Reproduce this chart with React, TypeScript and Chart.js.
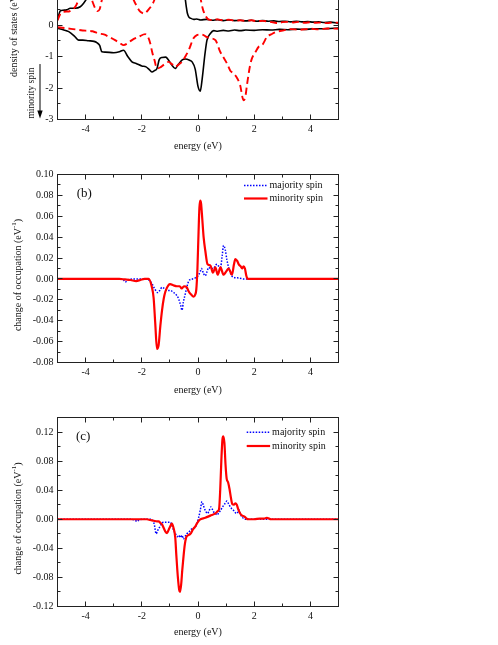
import React, { useEffect, useRef } from 'react';
import { Chart, registerables } from 'chart.js';

Chart.register(...registerables);

const FONT = "'Liberation Serif', 'Times New Roman', serif";

// ---------- shared axis data ----------
const energyMin = -5;
const energyMax = 5;
const xMajorTicks = [-4, -2, 0, 2, 4];
const xMinorTicks = [-5, -3, -1, 1, 3, 5];

// ---------- panel (a): density of states ----------
const aYMajor = [-3, -2, -1, 0, 1, 2, 3];
const aYMinor = [-2.5, -1.5, -0.5, 0.5, 1.5, 2.5];

const aBlackMajE = [-5.0, -4.9, -4.8, -4.67, -4.55, -4.37, -4.19, -4.07, -3.95, -3.7, -3.3, -2.9, -2.5, -2.1, -1.7, -1.3, -0.9, -0.6, -0.48, -0.42, -0.38, -0.33, -0.25, -0.15, -0.05, 0.1, 0.3, 0.5, 0.7, 0.9, 1.1, 1.3, 1.5, 1.7, 1.9, 2.1, 2.3, 2.5, 2.7, 2.9, 3.1, 3.3, 3.5, 3.7, 3.9, 4.1, 4.3, 4.5, 4.7, 4.9, 5.0];
const aBlackMajV = [0.16, 0.45, 0.47, 0.48, 0.53, 0.53, 0.58, 0.69, 0.85, 1.3, 1.6, 1.8, 2.0, 2.2, 1.9, 2.3, 2.1, 1.5, 1.0, 0.6, 0.38, 0.26, 0.21, 0.18, 0.19, 0.16, 0.18, 0.15, 0.17, 0.14, 0.16, 0.14, 0.15, 0.13, 0.15, 0.12, 0.14, 0.12, 0.13, 0.11, 0.12, 0.1, 0.12, 0.1, 0.11, 0.09, 0.1, 0.08, 0.09, 0.07, 0.05];

const aBlackMinE = [-5.0, -4.8, -4.6, -4.4, -4.25, -4.1, -3.9, -3.7, -3.6, -3.5, -3.42, -3.3, -3.0, -2.8, -2.65, -2.5, -2.35, -2.2, -2.0, -1.85, -1.75, -1.64, -1.55, -1.46, -1.38, -1.28, -1.15, -1.05, -0.95, -0.81, -0.7, -0.55, -0.45, -0.3, -0.21, -0.1, 0.0, 0.08, 0.15, 0.25, 0.32, 0.44, 0.56, 0.7, 0.9, 1.1, 1.3, 1.5, 1.7, 2.0, 2.3, 2.6, 2.9, 3.2, 3.5, 3.8, 4.1, 4.4, 4.7, 5.0];
const aBlackMinV = [-0.1, -0.15, -0.21, -0.35, -0.48, -0.48, -0.5, -0.52, -0.56, -0.65, -0.85, -0.86, -0.88, -0.85, -0.8, -1.0, -1.17, -1.22, -1.3, -1.33, -1.4, -1.49, -1.45, -1.38, -1.1, -1.03, -1.02, -1.11, -1.25, -1.38, -1.25, -1.1, -1.08, -1.12, -1.17, -1.4, -1.95, -2.1, -1.7, -0.9, -0.48, -0.27, -0.18, -0.2, -0.17, -0.19, -0.16, -0.18, -0.16, -0.17, -0.15, -0.16, -0.14, -0.15, -0.13, -0.14, -0.12, -0.12, -0.11, -0.1];

const aRedMajE = [-5.0, -4.9, -4.8, -4.6, -4.45, -4.35, -4.25, -4.1, -3.95, -3.85, -3.78, -3.66, -3.58, -3.5, -3.42, -3.3, -3.0, -2.6, -2.29, -2.18, -2.08, -1.98, -1.92, -1.85, -1.75, -1.65, -1.55, -1.4, -1.0, -0.6, -0.2, 0.02, 0.1, 0.16, 0.22, 0.28, 0.34, 0.4, 0.5, 0.7, 0.9, 1.1, 1.3, 1.5, 1.7, 1.9, 2.1, 2.3, 2.5, 2.7, 2.85, 3.0, 3.2, 3.4, 3.6, 3.8, 4.0, 4.2, 4.4, 4.6, 4.8, 5.0];
const aRedMajV = [0.15, 0.35, 0.42, 0.43, 0.5, 0.6, 0.8, 1.0, 1.05, 0.95, 0.8, 0.53, 0.44, 0.5, 0.8, 1.2, 1.5, 1.6, 0.8, 0.6, 0.45, 0.38, 0.36, 0.4, 0.5, 0.62, 0.8, 1.3, 2.0, 2.1, 1.6, 1.1, 0.8, 0.55, 0.38, 0.27, 0.2, 0.17, 0.16, 0.18, 0.15, 0.17, 0.14, 0.15, 0.13, 0.15, 0.12, 0.13, 0.11, 0.08, 0.06, 0.09, 0.1, 0.08, 0.1, 0.07, 0.09, 0.07, 0.08, 0.06, 0.08, 0.07];

const aRedMinE = [-5.0, -4.7, -4.37, -4.0, -3.75, -3.54, -3.35, -3.18, -2.95, -2.77, -2.65, -2.5, -2.35, -2.1, -1.88, -1.78, -1.7, -1.62, -1.55, -1.46, -1.35, -1.2, -1.05, -0.92, -0.81, -0.68, -0.57, -0.45, -0.33, -0.16, -0.04, 0.1, 0.2, 0.3, 0.45, 0.62, 0.79, 0.92, 1.03, 1.15, 1.27, 1.4, 1.5, 1.62, 1.68, 1.75, 1.85, 1.92, 2.05, 2.16, 2.28, 2.46, 2.6, 2.75, 3.05, 3.3, 3.6, 4.0, 4.3, 4.6, 5.0];
const aRedMinV = [-0.07, -0.1, -0.14, -0.18, -0.2, -0.27, -0.3, -0.37, -0.48, -0.58, -0.64, -0.58, -0.48, -0.37, -0.29, -0.38, -0.58, -0.9, -1.11, -1.38, -1.35, -1.25, -1.17, -1.25, -1.33, -1.25, -1.17, -1.0, -0.8, -0.42, -0.32, -0.3, -0.32, -0.38, -0.42, -0.48, -0.85, -1.05, -1.22, -1.45, -1.54, -1.7, -1.91, -2.39, -2.3, -1.86, -1.3, -1.06, -0.85, -0.69, -0.64, -0.37, -0.3, -0.23, -0.17, -0.13, -0.15, -0.12, -0.14, -0.11, -0.12];

// ---------- panel (b): change of occupation ----------
const bYMajor = [-0.08, -0.06, -0.04, -0.02, 0, 0.02, 0.04, 0.06, 0.08, 0.1];
const bYMinor = [-0.07, -0.05, -0.03, -0.01, 0.01, 0.03, 0.05, 0.07, 0.09];

const bMajE = [-5, -2.8, -2.65, -2.59, -2.5, -2.2, -1.9, -1.75, -1.65, -1.55, -1.44, -1.36, -1.28, -1.2, -1.1, -0.98, -0.87, -0.78, -0.69, -0.62, -0.57, -0.52, -0.45, -0.38, -0.33, -0.2, -0.1, 0.0, 0.08, 0.12, 0.2, 0.26, 0.32, 0.38, 0.45, 0.56, 0.62, 0.68, 0.74, 0.8, 0.86, 0.91, 0.97, 1.03, 1.09, 1.18, 1.27, 1.45, 1.62, 5];
const bMajV = [0, 0, -0.001, -0.003, -0.001, 0, 0, -0.001, -0.004, -0.009, -0.013, -0.011, -0.008, -0.009, -0.011, -0.011, -0.013, -0.015, -0.019, -0.025, -0.03, -0.022, -0.014, -0.006, -0.002, 0, 0.001, 0.003, 0.007, 0.01, 0.005, 0.003, 0.007, 0.011, 0.01, 0.01, 0.013, 0.014, 0.012, 0.011, 0.022, 0.032, 0.028, 0.018, 0.011, 0.004, 0.0015, 0.001, 0, 0];

const bMinE = [-5, -2.8, -2.6, -2.4, -2.2, -2.05, -1.9, -1.76, -1.64, -1.58, -1.52, -1.46, -1.4, -1.34, -1.28, -1.22, -1.16, -1.05, -0.99, -0.88, -0.75, -0.65, -0.58, -0.5, -0.4, -0.33, -0.24, -0.16, -0.1, -0.06, -0.02, 0.02, 0.05, 0.08, 0.11, 0.14, 0.2, 0.26, 0.34, 0.44, 0.53, 0.62, 0.7, 0.8, 0.91, 1.0, 1.09, 1.21, 1.28, 1.33, 1.4, 1.45, 1.52, 1.57, 1.62, 1.67, 1.72, 1.77, 1.85, 5];
const bMinV = [0, 0, -0.0005, -0.001, -0.002, -0.001, 0, 0, -0.008, -0.018, -0.043, -0.067, -0.063, -0.045, -0.03, -0.019, -0.012, -0.006, -0.005, -0.006, -0.007, -0.007, -0.009, -0.007, -0.008, -0.012, -0.015, -0.017, -0.015, -0.01, 0.01, 0.045, 0.068, 0.075, 0.072, 0.062, 0.04, 0.027, 0.014, 0.013, 0.006, 0.011, 0.004, 0.011, 0.004, 0.007, 0.01, 0.004, 0.014, 0.019, 0.017, 0.014, 0.012, 0.01, 0.012, 0.01, 0.003, 0, 0, 0];

// ---------- panel (c): change of occupation ----------
const cYMajor = [-0.12, -0.08, -0.04, 0, 0.04, 0.08, 0.12];
const cYMinor = [-0.1, -0.06, -0.02, 0.02, 0.06, 0.1, 0.14];

const cMajE = [-5, -2.4, -2.25, -2.17, -2.1, -1.9, -1.7, -1.6, -1.55, -1.49, -1.44, -1.4, -1.34, -1.28, -1.2, -1.1, -0.99, -0.93, -0.87, -0.8, -0.74, -0.69, -0.63, -0.57, -0.52, -0.48, -0.4, -0.33, -0.27, -0.21, -0.15, -0.1, -0.04, 0.02, 0.08, 0.14, 0.2, 0.26, 0.34, 0.4, 0.46, 0.52, 0.56, 0.62, 0.68, 0.74, 0.8, 0.86, 0.91, 0.97, 1.03, 1.09, 1.15, 1.21, 1.27, 1.33, 1.39, 1.45, 1.51, 1.57, 1.63, 1.69, 5];
const cMajV = [0, 0, -0.001, -0.003, -0.001, 0, 0, -0.002, -0.008, -0.02, -0.016, -0.013, -0.009, -0.005, -0.004, -0.004, -0.004, -0.008, -0.015, -0.02, -0.024, -0.022, -0.025, -0.022, -0.027, -0.025, -0.02, -0.018, -0.015, -0.013, -0.012, -0.011, -0.006, 0.002, 0.012, 0.024, 0.018, 0.012, 0.008, 0.012, 0.017, 0.013, 0.01, 0.008, 0.006, 0.009, 0.012, 0.016, 0.019, 0.022, 0.025, 0.021, 0.017, 0.014, 0.012, 0.009, 0.008, 0.013, 0.007, 0.003, 0.001, 0, 0];

const cMinE = [-5, -2.0, -1.82, -1.7, -1.58, -1.46, -1.4, -1.34, -1.28, -1.22, -1.16, -1.1, -1.04, -0.99, -0.93, -0.87, -0.81, -0.77, -0.72, -0.67, -0.64, -0.6, -0.56, -0.52, -0.47, -0.42, -0.35, -0.27, -0.18, -0.1, -0.04, 0.05, 0.26, 0.44, 0.62, 0.7, 0.75, 0.79, 0.83, 0.87, 0.9, 0.94, 0.98, 1.02, 1.07, 1.12, 1.17, 1.22, 1.28, 1.33, 1.38, 1.43, 1.5, 1.57, 1.64, 1.7, 1.78, 2.0, 2.2, 2.35, 2.45, 2.6, 5];
const cMinV = [0, 0, 0, -0.001, -0.002, -0.003, -0.003, -0.005, -0.007, -0.012, -0.017, -0.019, -0.014, -0.01, -0.006, -0.012, -0.025, -0.05, -0.078, -0.097, -0.1, -0.09, -0.07, -0.053, -0.035, -0.025, -0.022, -0.02, -0.014, -0.01, -0.006, -0.001, 0.002, 0.005, 0.008, 0.011, 0.014, 0.04, 0.08, 0.11, 0.114, 0.105, 0.075, 0.056, 0.051, 0.042, 0.03, 0.021, 0.02, 0.022, 0.02, 0.014, 0.008, 0.005, 0.004, 0.002, 0, 0, 0.001, 0.001, 0.002, 0, 0];

// ---------- helpers ----------
const zip = (xs: number[], ys: number[]) => xs.map((x, i) => ({ x, y: ys[i] }));

type RichPart = { text: string; size: number; dy?: number };

function drawRotatedRich(ctx: CanvasRenderingContext2D, x: number, y: number, parts: RichPart[], align: 'center' | 'start', color: string) {
  ctx.save();
  ctx.translate(x, y);
  ctx.rotate(-Math.PI / 2);
  ctx.textBaseline = 'middle';
  ctx.textAlign = 'left';
  ctx.fillStyle = color;
  let total = 0;
  const widths = parts.map((p) => {
    ctx.font = `${p.size}px ${FONT}`;
    const w = ctx.measureText(p.text).width;
    total += w;
    return w;
  });
  let cx = align === 'center' ? -total / 2 : 0;
  parts.forEach((p, i) => {
    ctx.font = `${p.size}px ${FONT}`;
    ctx.fillText(p.text, cx, p.dy || 0);
    cx += widths[i];
  });
  ctx.restore();
}

const decoPlugin = {
  id: 'deco',
  afterDatasetsDraw(chart: any, _args: any, opts: any) {
    const { ctx, chartArea: a, scales } = chart;
    const xs = scales.x;
    const ys = scales.y;
    ctx.save();
    ctx.strokeStyle = '#222';
    ctx.lineWidth = 1;
    const vt = (vals: number[], len: number) => {
      for (const v of vals) {
        const px = Math.floor(xs.getPixelForValue(v)) + 0.5;
        ctx.beginPath();
        ctx.moveTo(px, a.bottom);
        ctx.lineTo(px, a.bottom - len);
        ctx.moveTo(px, a.top);
        ctx.lineTo(px, a.top + len);
        ctx.stroke();
      }
    };
    const ht = (vals: number[], len: number) => {
      for (const v of vals) {
        const py = Math.floor(ys.getPixelForValue(v)) + 0.5;
        if (py < a.top - 0.1 || py > a.bottom + 0.1) continue;
        ctx.beginPath();
        ctx.moveTo(a.left, py);
        ctx.lineTo(a.left + len, py);
        ctx.moveTo(a.right, py);
        ctx.lineTo(a.right - len, py);
        ctx.stroke();
      }
    };
    vt(opts.xMajor, 5);
    vt(opts.xMinor, 3);
    ht(opts.yMajor, 5);
    ht(opts.yMinor, 3);
    ctx.strokeRect(a.left, a.top, a.right - a.left, a.bottom - a.top);
    ctx.restore();
  },
  afterDraw(chart: any, _args: any, opts: any) {
    const { ctx, chartArea: a, scales } = chart;
    const ys = scales.y;
    // y axis title with superscript
    const cy = (a.top + a.bottom) / 2 + 6.5;
    drawRotatedRich(
      ctx,
      opts.yTitleX,
      cy,
      [
        { text: opts.yTitle, size: 10 },
        { text: '-1', size: 7, dy: -3.5 },
        { text: ')', size: 10 },
      ],
      'center',
      '#111'
    );
    // panel label
    if (opts.panelLabel) {
      ctx.save();
      ctx.font = `13px ${FONT}`;
      ctx.fillStyle = '#111';
      ctx.textBaseline = 'middle';
      ctx.textAlign = 'left';
      ctx.fillText(opts.panelLabel, a.left + opts.panelLabelDx, a.top + opts.panelLabelDy);
      ctx.restore();
    }
    // legend
    if (opts.legend) {
      const L = opts.legend;
      const order: number[] = L.order;
      ctx.save();
      order.forEach((di, row) => {
        const ds = chart.data.datasets[di];
        const y = a.top + L.dy + row * L.rowGap;
        const x0 = a.left + L.dx;
        ctx.strokeStyle = ds.borderColor;
        ctx.lineWidth = ds.borderWidth;
        ctx.setLineDash(ds.borderDash || []);
        ctx.beginPath();
        ctx.moveTo(x0, y);
        ctx.lineTo(x0 + L.len, y);
        ctx.stroke();
        ctx.setLineDash([]);
        ctx.font = `10px ${FONT}`;
        ctx.fillStyle = '#111';
        ctx.textBaseline = 'middle';
        ctx.textAlign = 'left';
        ctx.fillText(ds.label, x0 + L.len + 2, y);
      });
      ctx.restore();
    }
    // spin annotation arrow
    if (opts.spinNote) {
      const n = opts.spinNote;
      const yTip = ys.getPixelForValue(n.tipValue);
      const yTail = ys.getPixelForValue(n.tailValue);
      const ax = a.left - n.arrowOffset;
      ctx.save();
      ctx.strokeStyle = '#000';
      ctx.fillStyle = '#000';
      ctx.lineWidth = 1;
      ctx.beginPath();
      ctx.moveTo(ax, yTail);
      ctx.lineTo(ax, yTip - 6);
      ctx.stroke();
      ctx.beginPath();
      ctx.moveTo(ax, yTip);
      ctx.lineTo(ax - 2.7, yTip - 8);
      ctx.lineTo(ax + 2.7, yTip - 8);
      ctx.closePath();
      ctx.fill();
      ctx.restore();
      drawRotatedRich(ctx, a.left - n.textOffset, yTip, [{ text: n.text, size: 9.5 }], 'start', '#111');
    }
  },
};

type PanelSpec = {
  canvasTop: number;
  canvasHeight: number;
  xAxisHeight: number;
  titlePadBottom: number;
  yMin: number;
  yMax: number;
  yMajor: number[];
  yMinor: number[];
  decimals: number;
  datasets: any[];
  deco: any;
};

function makeConfig(p: PanelSpec): any {
  return {
    type: 'line',
    data: { datasets: p.datasets },
    plugins: [decoPlugin],
    options: {
      responsive: false,
      animation: false,
      devicePixelRatio: 1,
      layout: { padding: { left: 0, right: 159.5, top: 10.5, bottom: 0 } },
      elements: { point: { radius: 0 } },
      plugins: {
        legend: { display: false },
        tooltip: { enabled: false },
        deco: p.deco,
      },
      scales: {
        x: {
          type: 'linear',
          min: energyMin,
          max: energyMax,
          afterFit: (s: any) => {
            s.height = p.xAxisHeight;
          },
          afterBuildTicks: (s: any) => {
            s.ticks = xMajorTicks.map((v) => ({ value: v }));
          },
          grid: { display: false, drawTicks: false },
          border: { display: false },
          ticks: {
            autoSkip: false,
            maxRotation: 0,
            padding: 4,
            color: '#111',
            font: { family: FONT, size: 10 },
            callback: (v: any) => String(v),
          },
          title: {
            display: true,
            text: 'energy (eV)',
            color: '#111',
            font: { family: FONT, size: 10 },
            padding: { top: 0, bottom: p.titlePadBottom },
          },
        },
        y: {
          type: 'linear',
          min: p.yMin,
          max: p.yMax,
          afterFit: (s: any) => {
            s.width = 57.5;
          },
          afterBuildTicks: (s: any) => {
            s.ticks = p.yMajor.map((v) => ({ value: v }));
          },
          grid: { display: false, drawTicks: false },
          border: { display: false },
          ticks: {
            autoSkip: false,
            padding: 4,
            color: '#111',
            font: { family: FONT, size: 10 },
            callback: (v: any) => Number(v).toFixed(p.decimals),
          },
        },
      },
    },
  };
}

const lineBase = { pointRadius: 0, cubicInterpolationMode: 'monotone', fill: false };

const panelA: PanelSpec = {
  canvasTop: -80,
  canvasHeight: 240,
  xAxisHeight: 40.5,
  titlePadBottom: 8,
  yMin: -3,
  yMax: 3,
  yMajor: aYMajor,
  yMinor: aYMinor,
  decimals: 0,
  datasets: [
    { ...lineBase, label: 'total majority', data: zip(aBlackMajE, aBlackMajV), borderColor: '#000000', borderWidth: 1.6, order: 1 },
    { ...lineBase, label: 'total minority', data: zip(aBlackMinE, aBlackMinV), borderColor: '#000000', borderWidth: 1.6, order: 1 },
    { ...lineBase, label: 'd majority', data: zip(aRedMajE, aRedMajV), borderColor: '#ff0000', borderWidth: 1.9, borderDash: [7, 4], order: 0 },
    { ...lineBase, label: 'd minority', data: zip(aRedMinE, aRedMinV), borderColor: '#ff0000', borderWidth: 1.9, borderDash: [7, 4], order: 0 },
  ],
  deco: {
    xMajor: xMajorTicks,
    xMinor: xMinorTicks,
    yMajor: aYMajor,
    yMinor: aYMinor,
    yTitle: 'density of states (eV',
    yTitleX: 14,
    spinNote: { text: 'minority spin', tipValue: -2.97, tailValue: -1.24, arrowOffset: 17.5, textOffset: 26 },
  },
};

const panelB: PanelSpec = {
  canvasTop: 164,
  canvasHeight: 240,
  xAxisHeight: 41.5,
  titlePadBottom: 8,
  yMin: -0.08,
  yMax: 0.1,
  yMajor: bYMajor,
  yMinor: bYMinor,
  decimals: 2,
  datasets: [
    { ...lineBase, label: 'majority spin', data: zip(bMajE, bMajV), borderColor: '#0000ff', borderWidth: 1.5, borderDash: [1.5, 1.5], order: 1 },
    { ...lineBase, label: 'minority spin', data: zip(bMinE, bMinV), borderColor: '#ff0000', borderWidth: 2.2, order: 0 },
  ],
  deco: {
    xMajor: xMajorTicks,
    xMinor: xMinorTicks,
    yMajor: bYMajor,
    yMinor: bYMinor,
    yTitle: 'change of occupation (eV',
    yTitleX: 18,
    panelLabel: '(b)',
    panelLabelDx: 19.2,
    panelLabelDy: 18.8,
    legend: { order: [0, 1], dx: 186.5, dy: 11, rowGap: 13, len: 23.5 },
  },
};

const panelC: PanelSpec = {
  canvasTop: 407,
  canvasHeight: 238,
  xAxisHeight: 38.5,
  titlePadBottom: 6.3,
  yMin: -0.12,
  yMax: 0.14,
  yMajor: cYMajor,
  yMinor: cYMinor,
  decimals: 2,
  datasets: [
    { ...lineBase, label: 'majority spin', data: zip(cMajE, cMajV), borderColor: '#0000ff', borderWidth: 1.5, borderDash: [1.5, 1.5], order: 1 },
    { ...lineBase, label: 'minority spin', data: zip(cMinE, cMinV), borderColor: '#ff0000', borderWidth: 2.2, order: 0 },
  ],
  deco: {
    xMajor: xMajorTicks,
    xMinor: xMinorTicks,
    yMajor: cYMajor,
    yMinor: cYMinor,
    yTitle: 'change of occupation (eV',
    yTitleX: 18,
    panelLabel: '(c)',
    panelLabelDx: 18.5,
    panelLabelDy: 19.2,
    legend: { order: [0, 1], dx: 189.2, dy: 14.8, rowGap: 13.7, len: 23.4 },
  },
};

function Panel({ spec }: { spec: PanelSpec }) {
  const ref = useRef<HTMLCanvasElement | null>(null);
  useEffect(() => {
    if (!ref.current) return;
    const chart = new Chart(ref.current, makeConfig(spec));
    return () => chart.destroy();
  }, [spec]);
  return (
    <canvas
      ref={ref}
      width={498}
      height={spec.canvasHeight}
      style={{ position: 'absolute', left: 0, top: spec.canvasTop, width: 498, height: spec.canvasHeight, display: 'block' }}
    />
  );
}

export default function App() {
  return (
    <div style={{ position: 'absolute', left: 0, top: 0, width: 498, height: 645, overflow: 'hidden', background: '#ffffff' }}>
      <Panel spec={panelA} />
      <Panel spec={panelB} />
      <Panel spec={panelC} />
    </div>
  );
}
